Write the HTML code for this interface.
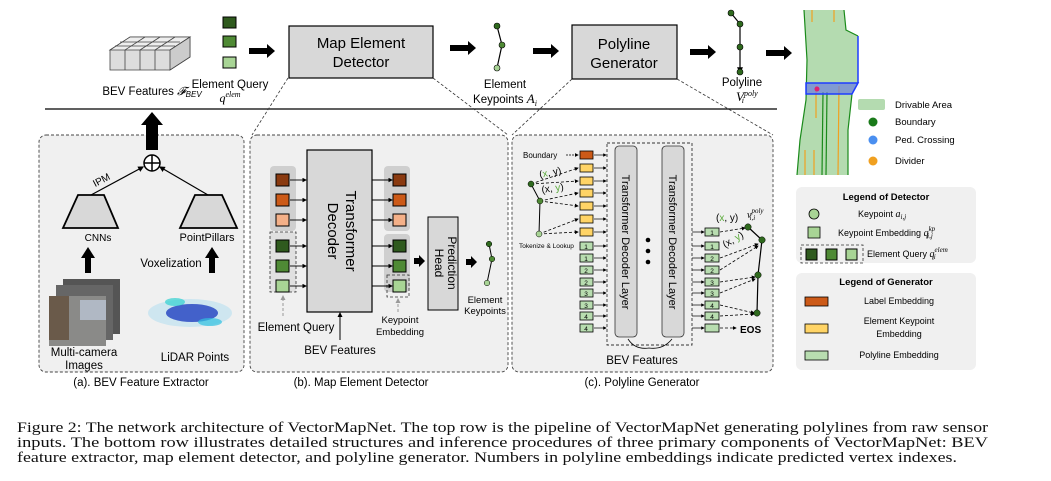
<!DOCTYPE html>
<html><head><meta charset="utf-8"><style>
body{margin:0;background:#fff;width:1051px;height:481px;overflow:hidden;font-family:"Liberation Sans",sans-serif}
</style></head><body>
<svg width="1051" height="481" style="position:absolute;left:0;top:0" font-family="Liberation Sans, sans-serif">
<defs>
<marker id="ahs" markerWidth="5" markerHeight="5" refX="4" refY="2.5" orient="auto"><path d="M0,0L5,2.5L0,5z" fill="#000"/></marker>
<marker id="ahg" markerWidth="5" markerHeight="5" refX="4" refY="2.5" orient="auto"><path d="M0,0L5,2.5L0,5z" fill="#999"/></marker>
</defs>
<g font-family="Liberation Serif, serif" font-size="15" fill="#111">
<text x="17" y="432" textLength="971" lengthAdjust="spacingAndGlyphs">Figure 2: The network architecture of VectorMapNet. The top row is the pipeline of VectorMapNet generating polylines from raw sensor</text>
<text x="17" y="447" textLength="971" lengthAdjust="spacingAndGlyphs">inputs. The bottom row illustrates detailed structures and inference procedures of three primary components of VectorMapNet: BEV</text>
<text x="17" y="462" textLength="940" lengthAdjust="spacingAndGlyphs">feature extractor, map element detector, and polyline generator. Numbers in polyline embeddings indicate predicted vertex indexes.</text>
</g>
<g stroke="#444" stroke-width="0.8" fill="#ddd">
<path d="M110,50 L130,37 L190,37 L190,57 L170,70 L110,70z"/>
<path d="M110,50 L130,37 L190,37 L170,50z" fill="#eee"/>
<line x1="125" y1="50" x2="125" y2="70"/><line x1="140" y1="50" x2="140" y2="70"/><line x1="155" y1="50" x2="155" y2="70"/>
<line x1="115" y1="46" x2="175" y2="46"/><line x1="120" y1="42" x2="180" y2="42"/>
<line x1="145" y1="37" x2="125" y2="50"/><line x1="160" y1="37" x2="140" y2="50"/><line x1="175" y1="37" x2="155" y2="50"/>
<path d="M170,50 L190,37 L190,57 L170,70z" fill="#ccc"/>
</g>
<text x="152" y="95" font-size="11.5" text-anchor="middle">BEV Features <tspan font-style="italic" font-family="Liberation Serif">𝓕</tspan><tspan font-size="8" font-style="italic" dy="2">BEV</tspan></text>
<rect x="223" y="17" width="13" height="11" fill="#2f5a1e" stroke="#000"/>
<rect x="223" y="36" width="13" height="11" fill="#4f8a35" stroke="#000"/>
<rect x="223" y="57" width="13" height="11" fill="#a8d495" stroke="#000"/>
<text x="230" y="88" font-size="11.5" text-anchor="middle">Element Query</text>
<text x="230" y="102" font-size="12" text-anchor="middle" font-family="Liberation Serif" font-style="italic">q<tspan font-size="8" dy="-5">elem</tspan><tspan font-size="8" dy="7" dx="-18">i</tspan></text>
<g fill="#000">
<path d="M249,48 L267,48 L267,44 L275,51 L267,58 L267,54 L249,54z"/>
<path d="M450,45 L468,45 L468,41 L476,48 L468,55 L468,51 L450,51z"/>
<path d="M533,48 L551,48 L551,44 L559,51 L551,58 L551,54 L533,54z"/>
<path d="M690,49 L708,49 L708,45 L716,52 L708,59 L708,55 L690,55z"/>
<path d="M766,50 L784,50 L784,46 L792,53 L784,60 L784,56 L766,56z"/>
</g>
<rect x="289" y="26" width="144" height="52" fill="#d8d8d8" stroke="#000" stroke-width="1.2"/>
<text x="361" y="48" font-size="15" text-anchor="middle">Map Element</text>
<text x="361" y="67" font-size="15" text-anchor="middle">Detector</text>
<rect x="572" y="25" width="105" height="54" fill="#d8d8d8" stroke="#000" stroke-width="1.2"/>
<text x="624" y="49" font-size="15" text-anchor="middle">Polyline</text>
<text x="624" y="68" font-size="15" text-anchor="middle">Generator</text>
<polyline points="497,26 502,45 497,68" fill="none" stroke="#000" stroke-width="1.2"/>
<circle cx="497" cy="26" r="3" fill="#2f6a1e" stroke="#000" stroke-width="0.6"/><circle cx="502" cy="45" r="3" fill="#4f8a35" stroke="#000" stroke-width="0.6"/><circle cx="497" cy="68" r="3" fill="#a8d495" stroke="#000" stroke-width="0.6"/>
<text x="505" y="88" font-size="11.5" text-anchor="middle">Element</text>
<text x="505" y="103" font-size="11.5" text-anchor="middle">Keypoints <tspan font-family="Liberation Serif" font-style="italic" font-size="13">A<tspan font-size="8" dy="3">i</tspan></tspan></text>
<g stroke="#000" stroke-width="1.2"><line x1="740" y1="24" x2="740" y2="72" marker-end="url(#ahs)"/><line x1="731" y1="13" x2="740" y2="24"/></g>
<circle cx="731" cy="13" r="3" fill="#2f6a1e" stroke="#000" stroke-width="0.6"/><circle cx="740" cy="24" r="3" fill="#2f6a1e" stroke="#000" stroke-width="0.6"/><circle cx="740" cy="47" r="3" fill="#2f6a1e" stroke="#000" stroke-width="0.6"/><circle cx="740" cy="72" r="3" fill="#2f6a1e" stroke="#000" stroke-width="0.6"/>
<text x="742" y="86" font-size="11.5" text-anchor="middle">Polyline</text>
<text x="736" y="101" font-size="13" font-family="Liberation Serif" font-style="italic">V<tspan font-size="8" dy="-5">poly</tspan><tspan font-size="8" dy="7" dx="-16">i</tspan></text>
<path d="M804,10 L844,10 L846,30 L858,36 L858,83 L852,94 L848,130 L848,175 L797,175 L800,140 L806,100 L807,60z" fill="#b4dbb0"/>
<g stroke="#1a8a1a" stroke-width="1.2" fill="none"><path d="M804,10 L807,60 L806,100 L800,140 L797,175"/><path d="M844,10 L846,30 L858,36"/><path d="M852,94 L848,130 L848,175"/><line x1="823" y1="92" x2="822" y2="175"/><line x1="827" y1="92" x2="826" y2="175"/></g>
<g stroke="#f0a020" stroke-width="1.2"><line x1="812" y1="10" x2="812" y2="22"/><line x1="834" y1="10" x2="834" y2="22"/><line x1="816" y1="86" x2="816" y2="118"/><line x1="839" y1="86" x2="838" y2="175"/><line x1="805" y1="150" x2="805" y2="175"/><line x1="814" y1="150" x2="814" y2="175"/></g>
<g stroke="#1e3cff" stroke-width="1.5"><line x1="858" y1="36" x2="858" y2="83"/><path d="M806,83 L858,83 L852,94 L806,94z" fill="#6b7fe0" fill-opacity="0.7"/></g>
<circle cx="817" cy="89" r="2.5" fill="#e02070"/>
<rect x="858" y="99" width="27" height="11" rx="2" fill="#b4dbb0"/>
<text x="895" y="108" font-size="9.5">Drivable Area</text>
<circle cx="873" cy="122" r="4.5" fill="#1a7a1a"/><text x="895" y="125" font-size="9.5">Boundary</text>
<circle cx="873" cy="140" r="4.5" fill="#4a8ff0"/><text x="895" y="143" font-size="9.5">Ped. Crossing</text>
<circle cx="873" cy="161" r="4.5" fill="#f0a020"/><text x="895" y="164" font-size="9.5">Divider</text>
<line x1="45" y1="109" x2="777" y2="109" stroke="#000" stroke-width="1.2"/>
<g stroke="#333" stroke-dasharray="3,2" stroke-width="0.8" fill="none">
<line x1="288" y1="78" x2="252" y2="135"/><line x1="433" y1="78" x2="508" y2="135"/>
<line x1="572" y1="79" x2="512" y2="135"/><line x1="677" y1="79" x2="773" y2="135"/>
</g>
<g fill="#f0f0f0" stroke="#444" stroke-dasharray="3,2" stroke-width="0.9">
<rect x="39" y="135" width="205" height="237" rx="7"/>
<rect x="250" y="135" width="258" height="237" rx="7"/>
<rect x="512" y="135" width="261" height="237" rx="7"/>
</g>
<rect x="796" y="187" width="180" height="76" rx="6" fill="#f0f0f0"/>
<rect x="796" y="273" width="180" height="97" rx="6" fill="#f0f0f0"/>
<g font-size="11.5" text-anchor="middle">
<text x="141" y="386">(a). BEV Feature Extractor</text>
<text x="361" y="386">(b). Map Element Detector</text>
<text x="642" y="386">(c). Polyline Generator</text>
</g>
<path d="M146,150 L146,125 L141,125 L152,112 L163,125 L158,125 L158,150z" fill="#000"/>
<circle cx="152" cy="163" r="8" fill="#fff" stroke="#000" stroke-width="1.5"/>
<line x1="144" y1="163" x2="160" y2="163" stroke="#000" stroke-width="1.5"/><line x1="152" y1="155" x2="152" y2="171" stroke="#000" stroke-width="1.5"/>
<path d="M78,195 L104,195 L118,228 L63,228z" fill="#d8d8d8" stroke="#000" stroke-width="1.8"/>
<path d="M195,195 L222,195 L237,228 L180,228z" fill="#d8d8d8" stroke="#000" stroke-width="1.8"/>
<line x1="91" y1="195" x2="143" y2="167" stroke="#000" stroke-width="1.2" marker-end="url(#ahs)"/>
<line x1="208" y1="195" x2="160" y2="167" stroke="#000" stroke-width="1.2" marker-end="url(#ahs)"/>
<text x="103" y="183" font-size="10" transform="rotate(-28 103 183)" text-anchor="middle">IPM</text>
<text x="98" y="241" font-size="10" text-anchor="middle">CNNs</text>
<text x="207" y="241" font-size="11" text-anchor="middle">PointPillars</text>
<path d="M85,273 L85,258 L81,258 L88,247 L95,258 L91,258 L91,273z" fill="#000"/>
<path d="M209,273 L209,258 L205,258 L212,247 L219,258 L215,258 L215,273z" fill="#000"/>
<text x="171" y="267" font-size="11.5" text-anchor="middle">Voxelization</text>
<rect x="63" y="279" width="57" height="55" fill="#555"/>
<rect x="56" y="285" width="57" height="55" fill="#666"/>
<rect x="49" y="296" width="57" height="50" fill="#8a8a88"/>
<rect x="49" y="296" width="20" height="44" fill="#6a5a4a"/><rect x="80" y="300" width="26" height="20" fill="#b0b8c4"/>
<text x="84" y="356" font-size="11.5" text-anchor="middle">Multi-camera</text>
<text x="84" y="369" font-size="11.5" text-anchor="middle">Images</text>
<ellipse cx="190" cy="313" rx="42" ry="14" fill="#b8e0f0" opacity="0.6"/>
<ellipse cx="192" cy="313" rx="26" ry="9" fill="#2040c0" opacity="0.8"/>
<ellipse cx="175" cy="302" rx="10" ry="4" fill="#30d0d0" opacity="0.7"/><ellipse cx="210" cy="322" rx="12" ry="4" fill="#30c0e0" opacity="0.7"/>
<text x="195" y="361" font-size="11.5" text-anchor="middle">LiDAR Points</text>
<rect x="270" y="166" width="26" height="65" rx="4" fill="#cfcfcf"/>
<rect x="384" y="166" width="26" height="65" rx="4" fill="#cfcfcf"/>
<rect x="384" y="234" width="26" height="58" rx="4" fill="#cfcfcf"/>
<rect x="270" y="232" width="26" height="60" fill="#e0e0e0" stroke="#333" stroke-dasharray="3,2" stroke-width="0.8"/>
<rect x="387" y="275" width="22" height="22" fill="none" stroke="#333" stroke-dasharray="3,2" stroke-width="0.8"/>
<rect x="307" y="150" width="65" height="162" fill="#d8d8d8" stroke="#000" stroke-width="1.2"/>
<text transform="translate(346,231) rotate(90)" font-size="15" text-anchor="middle">Transformer</text>
<text transform="translate(328,231) rotate(90)" font-size="15" text-anchor="middle">Decoder</text>
<g stroke="#000" stroke-width="0.9">
<line x1="290" y1="180" x2="306" y2="180" marker-end="url(#ahs)"/><line x1="290" y1="200" x2="306" y2="200" marker-end="url(#ahs)"/><line x1="290" y1="220" x2="306" y2="220" marker-end="url(#ahs)"/>
<line x1="290" y1="246" x2="306" y2="246" marker-end="url(#ahs)"/><line x1="290" y1="266" x2="306" y2="266" marker-end="url(#ahs)"/><line x1="290" y1="286" x2="306" y2="286" marker-end="url(#ahs)"/>
<line x1="372" y1="180" x2="392" y2="180" marker-end="url(#ahs)"/><line x1="372" y1="200" x2="392" y2="200" marker-end="url(#ahs)"/><line x1="372" y1="220" x2="392" y2="220" marker-end="url(#ahs)"/>
<line x1="372" y1="246" x2="392" y2="246" marker-end="url(#ahs)"/><line x1="372" y1="266" x2="392" y2="266" marker-end="url(#ahs)"/><line x1="372" y1="286" x2="392" y2="286" marker-end="url(#ahs)"/>
</g>
<g stroke="#000" stroke-width="1">
<rect x="276" y="174" width="13" height="12" fill="#8a3a10"/><rect x="276" y="194" width="13" height="12" fill="#cc5a18"/><rect x="276" y="214" width="13" height="12" fill="#f4b088"/>
<rect x="276" y="240" width="13" height="12" fill="#2f5a1e"/><rect x="276" y="260" width="13" height="12" fill="#4f8a35"/><rect x="276" y="280" width="13" height="12" fill="#a8d495"/>
<rect x="393" y="174" width="13" height="12" fill="#8a3a10"/><rect x="393" y="194" width="13" height="12" fill="#cc5a18"/><rect x="393" y="214" width="13" height="12" fill="#f4b088"/>
<rect x="393" y="240" width="13" height="12" fill="#2f5a1e"/><rect x="393" y="260" width="13" height="12" fill="#4f8a35"/><rect x="393" y="280" width="13" height="12" fill="#a8d495"/>
</g>
<line x1="283" y1="316" x2="283" y2="296" stroke="#999" stroke-dasharray="3,2" marker-end="url(#ahg)"/>
<line x1="398" y1="312" x2="398" y2="299" stroke="#999" stroke-dasharray="3,2" marker-end="url(#ahg)"/>
<path d="M414,258 L419,258 L419,255 L425,261 L419,267 L419,264 L414,264z" fill="#000"/>
<path d="M466,259 L471,259 L471,256 L477,262 L471,268 L471,265 L466,265z" fill="#000"/>
<rect x="428" y="217" width="30" height="93" fill="#d8d8d8" stroke="#000" stroke-width="1"/>
<text transform="translate(448,263) rotate(90)" font-size="12" text-anchor="middle">Prediction</text>
<text transform="translate(435,263) rotate(90)" font-size="12" text-anchor="middle">Head</text>
<polyline points="489,244 492,259 487,283" fill="none" stroke="#000" stroke-width="1"/>
<circle cx="489" cy="244" r="2.8" fill="#2f6a1e" stroke="#000" stroke-width="0.5"/><circle cx="492" cy="259" r="2.8" fill="#4f8a35" stroke="#000" stroke-width="0.5"/><circle cx="487" cy="283" r="2.8" fill="#a8d495" stroke="#000" stroke-width="0.5"/>
<text x="485" y="303" font-size="9.5" text-anchor="middle">Element</text>
<text x="485" y="314" font-size="9.5" text-anchor="middle">Keypoints</text>
<text x="296" y="331" font-size="11.5" text-anchor="middle">Element Query</text>
<text x="400" y="323" font-size="9.5" text-anchor="middle">Keypoint</text>
<text x="400" y="335" font-size="9.5" text-anchor="middle">Embedding</text>
<line x1="340" y1="340" x2="340" y2="313" stroke="#000" stroke-width="1" marker-end="url(#ahs)"/>
<text x="340" y="354" font-size="11.5" text-anchor="middle">BEV Features</text>
<rect x="607" y="143" width="85" height="202" fill="none" stroke="#333" stroke-dasharray="3,2" stroke-width="0.9"/>
<rect x="615" y="146" width="22" height="191" rx="4" fill="#d8d8d8" stroke="#333" stroke-width="0.8"/>
<rect x="662" y="146" width="22" height="191" rx="4" fill="#d8d8d8" stroke="#333" stroke-width="0.8"/>
<text transform="translate(622,242) rotate(90)" font-size="11" text-anchor="middle">Transformer Decoder Layer</text>
<text transform="translate(669,242) rotate(90)" font-size="11" text-anchor="middle">Transformer Decoder Layer</text>
<circle cx="648" cy="240" r="2.3"/><circle cx="648" cy="251" r="2.3"/><circle cx="648" cy="262" r="2.3"/>
<path d="M628,339 Q635,350 649,348 Q663,350 672,339" fill="none" stroke="#000" stroke-width="0.8"/>
<text x="642" y="364" font-size="11.5" text-anchor="middle">BEV Features</text>
<text x="523" y="158" font-size="8">Boundary</text>
<line x1="566" y1="155" x2="578" y2="155" stroke="#000" stroke-width="0.8" stroke-dasharray="2,1" marker-end="url(#ahs)"/>
<g stroke="#000" stroke-width="0.8">
<rect x="580" y="151" width="13" height="8" fill="#cc5a18"/>
<rect x="580" y="164" width="13" height="8" fill="#ffd466"/><rect x="580" y="177" width="13" height="8" fill="#ffd466"/><rect x="580" y="189" width="13" height="8" fill="#ffd466"/><rect x="580" y="202" width="13" height="8" fill="#ffd466"/><rect x="580" y="215" width="13" height="8" fill="#ffd466"/><rect x="580" y="228" width="13" height="8" fill="#ffd466"/>
</g>
<g stroke="#000" stroke-width="0.8" fill="#b8ddb0">
<rect x="580" y="242" width="13" height="8"/><rect x="580" y="254" width="13" height="8"/><rect x="580" y="266" width="13" height="8"/><rect x="580" y="278" width="13" height="8"/><rect x="580" y="289" width="13" height="8"/><rect x="580" y="301" width="13" height="8"/><rect x="580" y="312" width="13" height="8"/><rect x="580" y="324" width="13" height="8"/>
<rect x="705" y="228" width="14" height="8"/><rect x="705" y="242" width="14" height="8"/><rect x="705" y="254" width="14" height="8"/><rect x="705" y="266" width="14" height="8"/><rect x="705" y="278" width="14" height="8"/><rect x="705" y="289" width="14" height="8"/><rect x="705" y="301" width="14" height="8"/><rect x="705" y="312" width="14" height="8"/><rect x="705" y="324" width="14" height="8"/>
</g>
<g font-size="6.5" text-anchor="middle">
<text x="586" y="249">1</text><text x="586" y="261">1</text><text x="586" y="273">2</text><text x="586" y="285">2</text><text x="586" y="296">3</text><text x="586" y="308">3</text><text x="586" y="319">4</text><text x="586" y="331">4</text>
<text x="712" y="235">1</text><text x="712" y="249">1</text><text x="712" y="261">2</text><text x="712" y="273">2</text><text x="712" y="285">3</text><text x="712" y="296">3</text><text x="712" y="308">4</text><text x="712" y="319">4</text>
</g>
<g stroke="#000" stroke-width="0.7">
<line x1="594" y1="155" x2="606" y2="155" marker-end="url(#ahs)"/><line x1="594" y1="168" x2="606" y2="168" marker-end="url(#ahs)"/><line x1="594" y1="181" x2="606" y2="181" marker-end="url(#ahs)"/><line x1="594" y1="193" x2="606" y2="193" marker-end="url(#ahs)"/><line x1="594" y1="206" x2="606" y2="206" marker-end="url(#ahs)"/><line x1="594" y1="219" x2="606" y2="219" marker-end="url(#ahs)"/><line x1="594" y1="232" x2="606" y2="232" marker-end="url(#ahs)"/>
<line x1="594" y1="246" x2="606" y2="246" marker-end="url(#ahs)"/><line x1="594" y1="258" x2="606" y2="258" marker-end="url(#ahs)"/><line x1="594" y1="270" x2="606" y2="270" marker-end="url(#ahs)"/><line x1="594" y1="282" x2="606" y2="282" marker-end="url(#ahs)"/><line x1="594" y1="293" x2="606" y2="293" marker-end="url(#ahs)"/><line x1="594" y1="305" x2="606" y2="305" marker-end="url(#ahs)"/><line x1="594" y1="316" x2="606" y2="316" marker-end="url(#ahs)"/><line x1="594" y1="328" x2="606" y2="328" marker-end="url(#ahs)"/>
<line x1="692" y1="232" x2="704" y2="232" marker-end="url(#ahs)"/><line x1="692" y1="246" x2="704" y2="246" marker-end="url(#ahs)"/><line x1="692" y1="258" x2="704" y2="258" marker-end="url(#ahs)"/><line x1="692" y1="270" x2="704" y2="270" marker-end="url(#ahs)"/><line x1="692" y1="282" x2="704" y2="282" marker-end="url(#ahs)"/><line x1="692" y1="293" x2="704" y2="293" marker-end="url(#ahs)"/><line x1="692" y1="305" x2="704" y2="305" marker-end="url(#ahs)"/><line x1="692" y1="316" x2="704" y2="316" marker-end="url(#ahs)"/><line x1="692" y1="328" x2="704" y2="328" marker-end="url(#ahs)"/>
</g>
<polyline points="531,184 540,201 539,234" fill="none" stroke="#000" stroke-width="1"/>
<g stroke="#000" stroke-width="0.8" stroke-dasharray="3,2">
<line x1="531" y1="184" x2="578" y2="168" marker-end="url(#ahs)"/><line x1="531" y1="184" x2="578" y2="181" marker-end="url(#ahs)"/>
<line x1="540" y1="201" x2="578" y2="193" marker-end="url(#ahs)"/><line x1="540" y1="201" x2="578" y2="206" marker-end="url(#ahs)"/>
<line x1="539" y1="234" x2="578" y2="219" marker-end="url(#ahs)"/><line x1="539" y1="234" x2="578" y2="232" marker-end="url(#ahs)"/>
<line x1="720" y1="232" x2="745" y2="228" marker-end="url(#ahs)"/><line x1="720" y1="258" x2="758" y2="244" marker-end="url(#ahs)"/><line x1="720" y1="270" x2="758" y2="246" marker-end="url(#ahs)"/>
<line x1="720" y1="282" x2="755" y2="277" marker-end="url(#ahs)"/><line x1="720" y1="293" x2="755" y2="279" marker-end="url(#ahs)"/>
<line x1="720" y1="305" x2="754" y2="313" marker-end="url(#ahs)"/><line x1="720" y1="316" x2="754" y2="314" marker-end="url(#ahs)"/>
<line x1="720" y1="328" x2="736" y2="328" marker-end="url(#ahs)"/>
</g>
<circle cx="531" cy="184" r="3" fill="#2f6a1e" stroke="#000" stroke-width="0.5"/><circle cx="540" cy="201" r="3" fill="#4f8a35" stroke="#000" stroke-width="0.5"/><circle cx="539" cy="234" r="3" fill="#a8d495" stroke="#000" stroke-width="0.5"/>
<text x="540" y="178" font-size="10" transform="rotate(-12 540 178)">(<tspan fill="#5aaa3a">x</tspan>, y)</text>
<text x="542" y="193" font-size="10" transform="rotate(-8 542 193)">(x, <tspan fill="#5aaa3a">y</tspan>)</text>
<text x="519" y="248" font-size="6.5">Tokenize &amp; Lookup</text>
<polyline points="748,227 762,240 758,275 757,313" fill="none" stroke="#000" stroke-width="1.2"/>
<circle cx="748" cy="227" r="3.2" fill="#2f6a1e" stroke="#000" stroke-width="0.5"/><circle cx="762" cy="240" r="3.2" fill="#2f6a1e" stroke="#000" stroke-width="0.5"/><circle cx="758" cy="275" r="3.2" fill="#2f6a1e" stroke="#000" stroke-width="0.5"/><circle cx="757" cy="313" r="3.2" fill="#2f6a1e" stroke="#000" stroke-width="0.5"/>
<text x="716" y="221" font-size="10">(<tspan fill="#5aaa3a">x</tspan>, y)</text>
<text x="725" y="248" font-size="10" transform="rotate(-30 725 248)">(x, <tspan fill="#5aaa3a">y</tspan>)</text>
<text x="747" y="218" font-size="10" font-family="Liberation Serif" font-style="italic">v<tspan font-size="7" dy="-5">poly</tspan><tspan font-size="7" dy="7" dx="-14">i,i</tspan></text>
<text x="740" y="333" font-size="10" font-weight="bold">EOS</text>
<text x="886" y="200" font-size="9.5" font-weight="bold" text-anchor="middle">Legend of Detector</text>
<circle cx="814" cy="214" r="5" fill="#a8d495" stroke="#000" stroke-width="0.8"/>
<text x="858" y="217" font-size="9">Keypoint <tspan font-family="Liberation Serif" font-style="italic" font-size="10">a<tspan font-size="7" dy="2">i,j</tspan></tspan></text>
<rect x="808" y="227" width="12" height="11" fill="#a8d495" stroke="#000" stroke-width="0.8"/>
<text x="838" y="236" font-size="9">Keypoint Embedding <tspan font-family="Liberation Serif" font-style="italic" font-size="10">q<tspan font-size="7" dy="-5">kp</tspan><tspan font-size="7" dy="7" dx="-8">i,j</tspan></tspan></text>
<rect x="801" y="245" width="62" height="18" fill="none" stroke="#333" stroke-dasharray="3,2" stroke-width="0.8"/>
<rect x="806" y="249" width="11" height="11" fill="#2f5a1e" stroke="#000"/><rect x="826" y="249" width="11" height="11" fill="#4f8a35" stroke="#000"/><rect x="846" y="249" width="11" height="11" fill="#a8d495" stroke="#000"/>
<text x="867" y="257" font-size="9">Element Query <tspan font-family="Liberation Serif" font-style="italic" font-size="10">q<tspan font-size="7" dy="-5">elem</tspan><tspan font-size="7" dy="7" dx="-14">i</tspan></tspan></text>
<text x="886" y="285" font-size="9.5" font-weight="bold" text-anchor="middle">Legend of Generator</text>
<rect x="805" y="297" width="23" height="9" fill="#cc5a18" stroke="#000" stroke-width="0.8"/>
<text x="899" y="304" font-size="9" text-anchor="middle">Label Embedding</text>
<rect x="805" y="324" width="23" height="9" fill="#ffd466" stroke="#000" stroke-width="0.8"/>
<text x="899" y="324" font-size="9" text-anchor="middle">Element Keypoint</text>
<text x="899" y="337" font-size="9" text-anchor="middle">Embedding</text>
<rect x="805" y="351" width="23" height="9" fill="#b8ddb0" stroke="#000" stroke-width="0.8"/>
<text x="899" y="358" font-size="9" text-anchor="middle">Polyline Embedding</text>
</svg>
</body></html>
